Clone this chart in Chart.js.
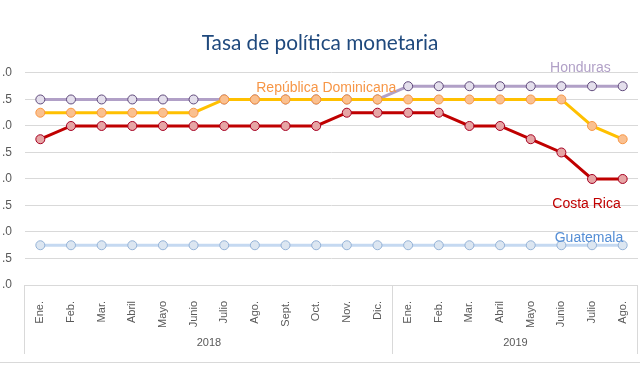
<!DOCTYPE html>
<html>
<head>
<meta charset="utf-8">
<script src="https://cdn.jsdelivr.net/npm/chart.js@4.4.1/dist/chart.umd.min.js"></script>
<style>
html, body { margin: 0; padding: 0; background: #fff; overflow: hidden; }
#rateChart { position: absolute; left: -20px; top: 0; }
</style>
</head>
<body>
<canvas id="rateChart" width="680" height="371"></canvas>
<script>
// categories
const months = ['Ene.', 'Feb.', 'Mar.', 'Abril', 'Mayo', 'Junio', 'Julio', 'Ago.', 'Sept.', 'Oct.', 'Nov.', 'Dic.',
                'Ene.', 'Feb.', 'Mar.', 'Abril', 'Mayo', 'Junio', 'Julio', 'Ago.'];
const years = ['2018', '2019'];
const yearSpans = [12, 8];

// series values (%)
const honduras = [5.5, 5.5, 5.5, 5.5, 5.5, 5.5, 5.5, 5.5, 5.5, 5.5, 5.5, 5.5,
                  5.75, 5.75, 5.75, 5.75, 5.75, 5.75, 5.75, 5.75];
const repDominicana = [5.25, 5.25, 5.25, 5.25, 5.25, 5.25, 5.5, 5.5, 5.5, 5.5, 5.5, 5.5,
                       5.5, 5.5, 5.5, 5.5, 5.5, 5.5, 5.0, 4.75];
const costaRica = [4.75, 5.0, 5.0, 5.0, 5.0, 5.0, 5.0, 5.0, 5.0, 5.0, 5.25, 5.25,
                   5.25, 5.25, 5.0, 5.0, 4.75, 4.5, 4.0, 4.0];
const guatemala = [2.75, 2.75, 2.75, 2.75, 2.75, 2.75, 2.75, 2.75, 2.75, 2.75, 2.75, 2.75,
                   2.75, 2.75, 2.75, 2.75, 2.75, 2.75, 2.75, 2.75];

// where the series names sit, in category index / value units
const seriesNames = [
  { text: 'Honduras', at: [17.62, 6.1], color: '#B1A0C7' },
  { text: 'República Dominicana', at: [9.33, 5.72], color: '#F79646' },
  { text: 'Costa Rica', at: [17.82, 3.53], color: '#C00000' },
  { text: 'Guatemala', at: [17.9, 2.89], color: '#558ED5' }
];

const gridColor = '#D9D9D9';
const tickColor = '#595959';

function series(label, data, line, fill, border) {
  return {
    label: label,
    data: data,
    borderColor: line,
    borderWidth: 3,
    pointRadius: 4.5,
    pointHoverRadius: 4.5,
    pointBorderWidth: 1,
    pointBackgroundColor: fill,
    pointBorderColor: border,
    tension: 0,
    clip: false
  };
}

// year row under the month labels, with separators
const yearRow = {
  id: 'yearRow',
  afterDraw(chart) {
    const ctx = chart.ctx;
    const x = chart.scales.x;
    const half = (x.getPixelForValue(1) - x.getPixelForValue(0)) / 2;
    const top = x.top;
    const bottom = top + 69;
    ctx.save();
    ctx.strokeStyle = gridColor;
    ctx.lineWidth = 1;
    ctx.fillStyle = tickColor;
    ctx.font = '11px "Liberation Sans"';
    ctx.textAlign = 'center';
    ctx.textBaseline = 'middle';

    let start = 0;
    const edges = [x.getPixelForValue(0) - half];
    years.forEach((yr, k) => {
      const end = start + yearSpans[k] - 1;
      edges.push(x.getPixelForValue(end) + half);
      const mid = (x.getPixelForValue(start) + x.getPixelForValue(end)) / 2;
      ctx.fillText(yr, mid, top + 58);
      start = end + 1;
    });
    edges.forEach(px => {
      const p = Math.round(px) - 0.5;
      ctx.beginPath();
      ctx.moveTo(p, top);
      ctx.lineTo(p, bottom);
      ctx.stroke();
    });

    // outer bottom border
    ctx.beginPath();
    ctx.moveTo(0, chart.height - 8.5);
    ctx.lineTo(chart.width, chart.height - 8.5);
    ctx.stroke();
    ctx.restore();
  }
};

const nameLabels = {
  id: 'nameLabels',
  afterDatasetsDraw(chart) {
    const ctx = chart.ctx;
    const x = chart.scales.x;
    const y = chart.scales.y;
    ctx.save();
    ctx.font = '14px "Liberation Sans"';
    ctx.textAlign = 'center';
    ctx.textBaseline = 'middle';
    seriesNames.forEach(n => {
      ctx.fillStyle = n.color;
      ctx.fillText(n.text, x.getPixelForValue(n.at[0]), y.getPixelForValue(n.at[1]));
    });
    ctx.restore();
  }
};

const ctx = document.getElementById('rateChart').getContext('2d');
const chart = new Chart(ctx, {
  type: 'line',
  data: {
    labels: months,
    datasets: [
      series('Guatemala', guatemala, '#C5D9F1', '#DCE6F1', '#95B3D7'),
      series('Costa Rica', costaRica, '#C00000', '#E6A5A5', '#A50021'),
      series('República Dominicana', repDominicana, '#FFC000', '#FAC090', '#F79646'),
      series('Honduras', honduras, '#B1A0C7', '#E4DFEC', '#604A7B')
    ]
  },
  options: {
    responsive: false,
    animation: false,
    layout: { padding: { left: 22, right: 22, top: 0, bottom: 0 } },
    plugins: {
      legend: { display: false },
      tooltip: { enabled: false },
      title: {
        display: true,
        text: 'Tasa de política monetaria',
        color: '#1F497D',
        font: { family: 'Lato', size: 20.8, weight: 'normal', lineHeight: 1.2 },
        padding: { top: 31, bottom: 17 }
      }
    },
    scales: {
      x: {
        offset: true,
        grid: { display: false },
        border: { display: false },
        ticks: {
          color: tickColor,
          font: { family: 'Liberation Sans', size: 11 },
          minRotation: 90,
          maxRotation: 90,
          autoSkip: false,
          padding: 8
        },
        afterFit(scale) {
          scale.height = 86;
          scale.paddingLeft = 0;
          scale.paddingRight = 0;
        }
      },
      y: {
        min: 2,
        max: 6,
        grid: { color: gridColor, drawTicks: false },
        border: { display: false },
        ticks: {
          stepSize: 0.5,
          color: tickColor,
          font: { family: 'Liberation Sans', size: 12 },
          padding: 13,
          callback: v => v.toFixed(1)
        },
        afterFit(scale) { scale.width = 23; }
      }
    }
  },
  plugins: [yearRow, nameLabels]
});
</script>
</body>
</html>
